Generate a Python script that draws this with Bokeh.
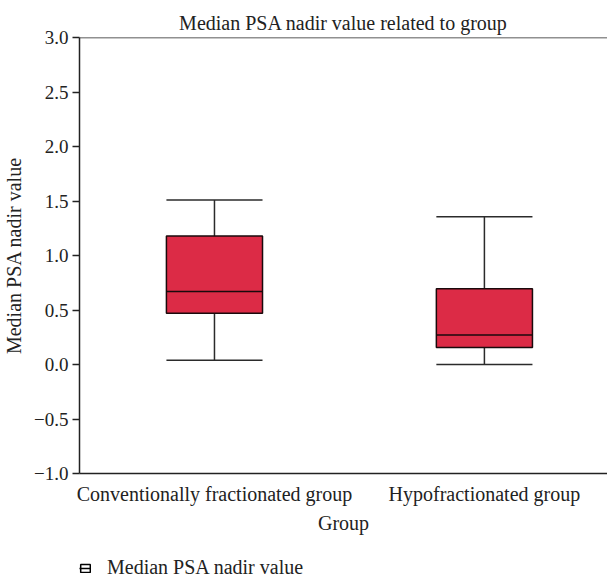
from bokeh.plotting import figure
from bokeh.layouts import column
from bokeh.models import (ColumnDataSource, Range1d, FixedTicker, Span, Legend, LegendItem)
from bokeh.embed import file_html
from bokeh.resources import INLINE

groups = ["Conventionally fractionated group", "Hypofractionated group"]
whisker_low = [0.04, 0.0]
q1 = [0.47, 0.155]
median = [0.67, 0.27]
q3 = [1.18, 0.695]
whisker_high = [1.51, 1.355]
y_ticks = [-1.0, -0.5, 0.0, 0.5, 1.0, 1.5, 2.0, 2.5, 3.0]
series_name = "Median PSA nadir value"

FONT = "Liberation Serif"
BOX_COLOR = "#DC2B46"
INK = "#222222"

xpos = [i + 0.5 for i in range(len(groups))]
bw = 0.356
src = ColumnDataSource(dict(x=xpos, lo=whisker_low, q1=q1, med=median, q3=q3, hi=whisker_high,
                            x0=[x - bw / 2 for x in xpos], x1=[x + bw / 2 for x in xpos]))

p = figure(frame_width=528, frame_height=436, output_backend="svg", toolbar_location=None,
           x_range=Range1d(0, 1.956), y_range=Range1d(-1.0, 3.0),
           min_border_left=70, min_border_top=37, min_border_right=0, min_border_bottom=82,
           title="Median PSA nadir value related to group")
p.outline_line_color = None
p.grid.visible = False
p.background_fill_color = "white"

# whiskers
p.segment(x0="x", x1="x", y0="q3", y1="hi", source=src, line_color="#2b2b2b", line_width=1.5)
p.segment(x0="x", x1="x", y0="lo", y1="q1", source=src, line_color="#2b2b2b", line_width=1.5)
p.segment(x0="x0", x1="x1", y0="hi", y1="hi", source=src, line_color="#2b2b2b", line_width=1.5)
p.segment(x0="x0", x1="x1", y0="lo", y1="lo", source=src, line_color="#2b2b2b", line_width=1.5)
# boxes
p.vbar(x="x", width=bw, bottom="q1", top="q3", source=src, fill_color=BOX_COLOR,
       line_color="#1a0a0c", line_width=1.5)
p.segment(x0="x0", x1="x1", y0="med", y1="med", source=src, line_color="#1a0a0c", line_width=1.5)

p.add_layout(Span(location=3.0, dimension="width", line_color=INK, line_width=1.5))

p.title.text_font = FONT
p.title.text_font_size = "20px"
p.title.text_font_style = "normal"
p.title.align = "center"
p.title.text_color = INK
p.title.standoff = 8

ya = p.yaxis[0]
ya.ticker = FixedTicker(ticks=y_ticks)
ya.major_label_overrides = {t: ("\u2212" + f"{abs(t):.1f}" if t < 0 else f"{t:.1f}") for t in y_ticks}
ya.axis_label = series_name
ya.minor_tick_line_color = None
ya.major_tick_in = 0
ya.major_tick_out = 7
ya.major_label_standoff = 4
ya.axis_label_standoff = 6

xa = p.xaxis[0]
xa.ticker = FixedTicker(ticks=xpos)
xa.major_label_overrides = {x: g for x, g in zip(xpos, groups)}
xa.axis_label = "Group"
xa.minor_tick_line_color = None
xa.major_label_standoff = 3
xa.axis_label_standoff = 4

for ax in (xa, ya):
    ax.axis_line_color = INK
    ax.axis_line_width = 1.5
    ax.major_tick_line_width = 1.5
    ax.major_label_text_font = FONT
    ax.major_label_text_color = INK
    ax.axis_label_text_font = FONT
    ax.axis_label_text_font_size = "20px"
    ax.axis_label_text_font_style = "normal"
    ax.axis_label_text_color = INK
ya.major_label_text_font_size = "19px"
xa.major_label_text_font_size = "20px"
ya.major_tick_line_color = INK
xa.major_tick_line_color = None

# legend strip (separate small figure so the legend is not clipped)
lg = figure(width=599, height=24, output_backend="svg", toolbar_location=None,
            x_range=Range1d(0, 1), y_range=Range1d(0, 1),
            min_border=0, min_border_left=0, min_border_right=0, min_border_top=0, min_border_bottom=0)
lg.axis.visible = False
lg.grid.visible = False
lg.outline_line_color = None
off = ColumnDataSource(dict(x=[-10.0], y=[-10.0]))  # outside the view, only the legend icon shows
r_box = lg.rect(x="x", y="y", width=0.1, height=0.1, source=off, fill_color="white",
                line_color="black", line_width=1.5)
r_line = lg.segment(x0="x", y0="y", x1="x", y1="y", source=off, line_color="black", line_width=1.5)
legend = Legend(items=[LegendItem(label=series_name, renderers=[r_box, r_line])],
                location=(0, 0), orientation="horizontal", border_line_color=None,
                background_fill_alpha=0, label_text_font=FONT, label_text_font_size="20px",
                label_text_color=INK, glyph_width=12, glyph_height=10, padding=0,
                margin=0, label_standoff=16, label_height=20)
lg.add_layout(legend, "center")

layout = column(p, lg, spacing=0)
open("out.html", "w").write(file_html(layout, INLINE))
